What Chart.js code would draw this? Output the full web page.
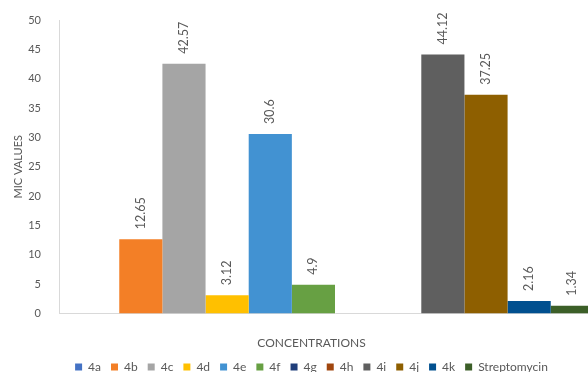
<!DOCTYPE html>
<html>
<head>
<meta charset="utf-8">
<script src="https://cdn.jsdelivr.net/npm/chart.js@4"></script>
<style>
  html, body { margin: 0; padding: 0; background: #fff; }
  #frame { position: relative; width: 588px; height: 372px; overflow: hidden; }
  #box { position: absolute; left: 0; top: 0; width: 644px; height: 383px; }
</style>
</head>
<body>
<div id="frame"><div id="box"><canvas id="micChart"></canvas></div></div>
<script>
const categories = ["MIC"];
const seriesNames = ["4a", "4b", "4c", "4d", "4e", "4f", "4g", "4h", "4i", "4j", "4k", "Streptomycin"];
const micValues = [null, 12.65, 42.57, 3.12, 30.6, 4.9, null, null, 44.12, 37.25, 2.16, 1.34];
const seriesColors = ["#4472C4", "#F37F26", "#A5A5A5", "#FFC000", "#4292D2", "#67A043",
  "#1F3E7A", "#A0460E", "#5F5F5F", "#8E5F00", "#01508F", "#3C5F28"];
const yTicks = { min: 0, max: 50, step: 5 };

const textColor = "#595959";
const fontFamily = "Lato";

// value labels written upward above each bar
const barValueLabels = {
  id: "barValueLabels",
  afterDatasetsDraw(chart) {
    const ctx = chart.ctx;
    ctx.save();
    ctx.font = "12.5px " + fontFamily;
    ctx.fillStyle = textColor;
    ctx.textAlign = "left";
    ctx.textBaseline = "middle";
    chart.data.datasets.forEach((ds, i) => {
      const meta = chart.getDatasetMeta(i);
      meta.data.forEach((bar, j) => {
        const v = ds.data[j];
        if (v == null) return;
        ctx.save();
        ctx.translate(bar.x, bar.y - 10);
        ctx.rotate(-Math.PI / 2);
        ctx.fillText(String(v), 0, 0);
        ctx.restore();
      });
    });
    ctx.restore();
  },
};

const datasets = seriesNames.map((name, i) => ({
  label: name,
  data: [micValues[i]],
  backgroundColor: seriesColors[i],
  borderWidth: 0,
  categoryPercentage: 0.938,
  barPercentage: 1,
}));

const ctx = document.getElementById("micChart").getContext("2d");

new Chart(ctx, {
  type: "bar",
  data: { labels: categories, datasets: datasets },
  plugins: [barValueLabels],
  options: {
    responsive: true,
    maintainAspectRatio: false,
    animation: false,
    layout: { padding: { top: 20, right: 33, left: 12, bottom: 0 } },
    plugins: {
      tooltip: { enabled: false },
      title: {
        display: true,
        position: "bottom",
        text: "CONCENTRATIONS",
        color: textColor,
        weight: 500,
        font: { family: fontFamily, size: 12, weight: "normal" },
        padding: { top: 22, bottom: 1 },
      },
      legend: {
        position: "bottom",
        labels: {
          color: textColor,
          font: { family: fontFamily, size: 12 },
          boxWidth: 7,
          boxHeight: 7,
          padding: 10,
        },
      },
    },
    scales: {
      x: {
        grid: { display: false, drawTicks: false },
        border: { display: true, color: "#D9D9D9" },
        ticks: { display: false },
      },
      y: {
        min: yTicks.min,
        max: yTicks.max,
        afterFit(scale) { scale.width = 47; },
        // ticks hidden with the grid, but their length still spaces the labels
        grid: { display: false, drawTicks: true, tickLength: 14 },
        border: { display: true, color: "#D9D9D9" },
        ticks: {
          stepSize: yTicks.step,
          color: textColor,
          padding: 4,
          font: { family: fontFamily, size: 11 },
        },
        title: {
          display: true,
          text: "MIC VALUES",
          color: textColor,
          font: { family: fontFamily, size: 11 },
          padding: { top: 0, bottom: 0 },
        },
      },
    },
  },
});
</script>
</body>
</html>
